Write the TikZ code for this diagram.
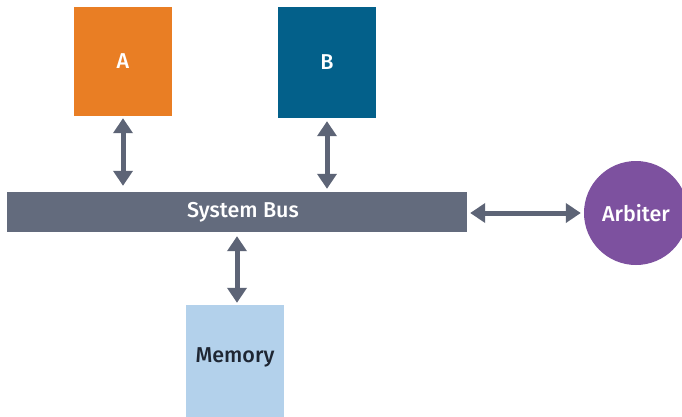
\documentclass[tikz,border=0pt]{standalone}
\usepackage{fontspec}
\setmainfont{Fira Sans}[BoldFont={Fira Sans Medium}]
\usetikzlibrary{arrows.meta}
\definecolor{aorange}{HTML}{E97E24}
\definecolor{bblue}{HTML}{03608A}
\definecolor{busgray}{HTML}{636B7D}
\definecolor{arrowgray}{HTML}{5D6476}
\definecolor{memblue}{HTML}{B3D1EB}
\definecolor{arbpurple}{HTML}{7D519F}
\definecolor{memtext}{HTML}{1E2633}
\begin{document}
\begin{tikzpicture}[x=1pt,y=-1pt,
  lbl/.style={font=\fontsize{21.5}{25}\selectfont\bfseries},
  unit/.style={rectangle, inner sep=0pt, minimum width=98pt, lbl},
  biarrow/.style={draw=arrowgray, line width=5pt,
    {Triangle[width=19pt,length=15pt]}-{Triangle[width=19pt,length=15pt]}}]
  \useasboundingbox (0,0) rectangle (682,416);
  \fill[white] (0,0) rectangle (682,416);
  % processors on top
  \node[unit, fill=aorange, text=white, minimum height=109pt] (A) at (123,61.5) {A};
  \node[unit, fill=bblue, text=white, minimum height=111pt] (B) at (327,62.5) {B};
  % the shared bus
  \node[rectangle, inner sep=0pt, fill=busgray, minimum width=460pt,
        minimum height=40pt] (bus) at (237,212) {};
  \node[lbl, text=white] (buslabel) at (243,212) {System Bus};
  % memory below the bus
  \node[unit, fill=memblue, minimum height=122pt] (mem) at (235,366) {};
  \node[lbl, text=memtext] (memlabel) at (235,357) {Memory};
  % bus arbiter
  \node[circle, inner sep=0pt, fill=arbpurple, text=white, minimum size=104pt, lbl]
        (arb) at (636,213) {Arbiter};
  % connections
  \draw[biarrow, shorten <=2pt, shorten >=6pt] (A.south) -- (A.south |- bus.north);
  \draw[biarrow, shorten <=3pt, shorten >=3pt] (B.south) -- (B.south |- bus.north);
  \draw[biarrow, shorten <=4pt, shorten >=2pt] (bus.south) -- (bus.south |- mem.north);
  \draw[biarrow, shorten <=3pt, shorten >=3pt] (bus.east |- arb.west) -- (arb.west);
\end{tikzpicture}
\end{document}
